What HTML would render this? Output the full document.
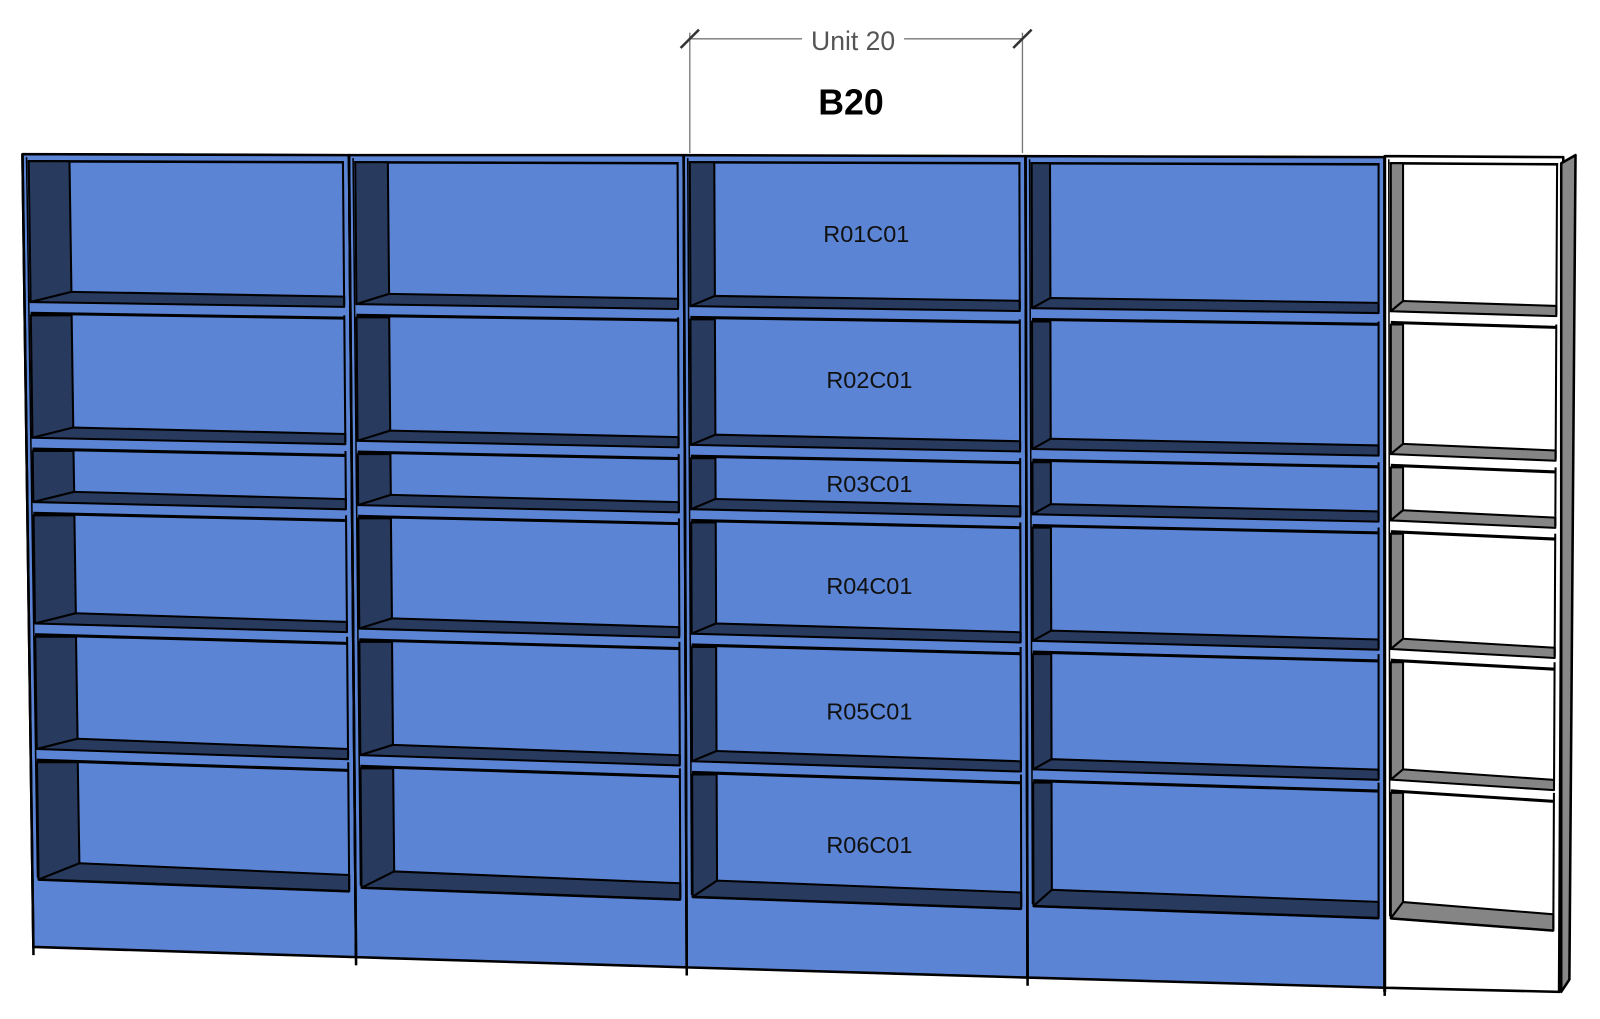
<!DOCTYPE html>
<html><head><meta charset="utf-8"><style>
html,body{margin:0;padding:0;background:#fff;}
svg{display:block;}
</style></head><body>
<svg id="s" width="1600" height="1019" viewBox="0 0 1568 998.6" xmlns="http://www.w3.org/2000/svg">
<g stroke="#777" stroke-width="1.3" fill="none">
<line x1="676" y1="38" x2="786" y2="38"/><line x1="886" y1="38" x2="1002" y2="38"/>
<line x1="676" y1="32" x2="676" y2="150"/><line x1="1002" y1="32" x2="1002" y2="150"/>
</g>
<g stroke="#333" stroke-width="2.5"><line x1="667" y1="47" x2="685" y2="29"/><line x1="993" y1="47" x2="1011" y2="29"/></g>
<text x="836" y="49" font-family="Liberation Sans, sans-serif" font-size="26" fill="#555" text-anchor="middle">Unit 20</text>
<text x="834" y="112" font-family="Liberation Sans, sans-serif" font-size="35" font-weight="bold" fill="#000" text-anchor="middle">B20</text>
<g id="g"></g>
<g font-family="Liberation Sans, sans-serif" font-size="23" fill="#111" text-anchor="middle">
<text x="849" y="237">R01C01</text><text x="852" y="380">R02C01</text><text x="852" y="482">R03C01</text>
<text x="852" y="582">R04C01</text><text x="852" y="705">R05C01</text><text x="852" y="836">R06C01</text>
</g>
</svg>
<script>
var U=[
{xlT:22,xlB:33,xrT:342,xrB:349,tL:151,tR:152,bL:928,bR:938,w:40,sh:[294,427,490,609,732],bot:860,fill:'#5b84d4',dark:'#283a5e'},
{xlT:342,xlB:349,xrT:670,xrB:673,tL:152,tR:152,bL:938,bR:948,w:32,sh:[296,430,493,614,738],bot:868,fill:'#5b84d4',dark:'#283a5e'},
{xlT:670,xlB:673,xrT:1005,xrB:1007,tL:152,tR:153,bL:948,bR:958,w:24,sh:[298,434,497,619,744],bot:877,fill:'#5b84d4',dark:'#283a5e'},
{xlT:1005,xlB:1007,xrT:1357,xrB:1357,tL:153,tR:154,bL:958,bR:968,w:18,sh:[300,438,502,626,752],bot:886,fill:'#5b84d4',dark:'#283a5e'},
{xlT:1357,xlB:1357,xrT:1532,xrB:1528,tL:153,tR:154,bL:968,bR:972,w:12,sh:[303,443,508,634,762],bot:898,fill:'#ffffff',dark:'#858585'}
];
var out='';
function P(pts,f,sw){return '<polygon points="'+pts.map(function(p){return p[0].toFixed(1)+','+p[1].toFixed(1)}).join(' ')+'" fill="'+f+'" stroke="#000" stroke-width="'+(sw||2)+'" stroke-linejoin="round"/>';}
U.forEach(function(u,ui){
  function xl(y){return u.xlT+(u.xlB-u.xlT)*(y-150)/800;}
  function xr(y){return u.xrT+(u.xrB-u.xrT)*(y-150)/800;}
  function off(y){return 3+(y-150)*0.012;}
  out+=P([[xl(u.tL),u.tL],[xr(u.tR),u.tR],[xr(u.bR),u.bR],[xl(u.bL),u.bL]],u.fill,2.5);
  var top=u.tL+7;
  out+='<line x1="'+(xl(top)+5)+'" y1="'+top+'" x2="'+(xr(top)-5)+'" y2="'+(top+1)+'" stroke="#000" stroke-width="2.5"/>';
  var ys=u.sh.concat([u.bot]);
  var cTop=top;
  ys.forEach(function(s,i){
    var isBot=(i==ys.length-1);
    var band=isBot?16:10;
    var a=xl(s)+6, b=xl(s)+6+u.w, c=xr(s)-6, o=off(s);
    out+=P([[xl(cTop)+6,cTop],[xl(cTop)+6+u.w,cTop],[b,s-band+2],[a,s+2]],u.dark,2);
    out+=P([[a,s+2],[b,s-band+2],[c,s-band+2+o],[c,s+2+o]],u.dark,2);
    out+='<line x1="'+(xr(cTop)-6)+'" y1="'+cTop+'" x2="'+c+'" y2="'+(s+o)+'" stroke="#000" stroke-width="2"/>';
    if(!isBot){
      var f2=s+2+11;
      out+='<line x1="'+a+'" y1="'+f2+'" x2="'+c+'" y2="'+(f2+o)+'" stroke="#000" stroke-width="3"/>';
      cTop=f2+2;
    } else {
      out+='<line x1="'+a+'" y1="'+(s+2)+'" x2="'+c+'" y2="'+(s+2+o)+'" stroke="#000" stroke-width="2.5"/>';
    }
  });
  out+='<line x1="'+xl(u.tL)+'" y1="'+u.tL+'" x2="'+xl(u.bL+8)+'" y2="'+(u.bL+8)+'" stroke="#000" stroke-width="2.5"/>';
  out+='<line x1="'+(xl(u.tL)+4)+'" y1="'+(u.tL+3)+'" x2="'+(xl(u.bot)+5)+'" y2="'+u.bot+'" stroke="#000" stroke-width="1.5"/>';
});
out+=P([[1530,160],[1544,152],[1538,960],[1530,972]],'#888',2.5);
out+='<line x1="1357" y1="153" x2="1357" y2="972" stroke="#000" stroke-width="3"/>';
document.getElementById('g').innerHTML=out;
</script>
</body></html>
